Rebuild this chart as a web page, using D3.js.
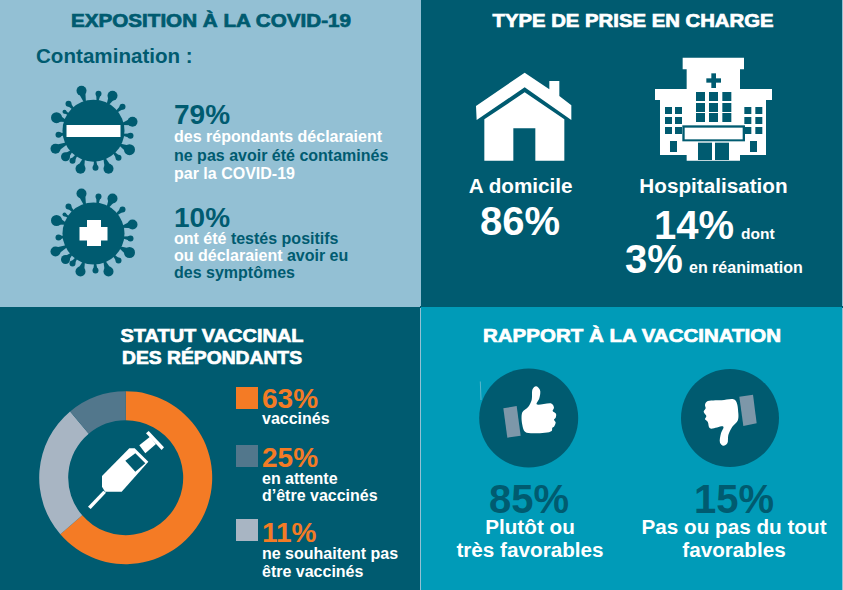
<!DOCTYPE html>
<html>
<head>
<meta charset="utf-8">
<script src="https://cdnjs.cloudflare.com/ajax/libs/d3/7.8.5/d3.min.js"></script>
<style>
  html, body { margin: 0; padding: 0; background: #ffffff; }
  svg { display: block; }
  text { font-family: "Liberation Sans", Arial, sans-serif; font-weight: bold; }
</style>
</head>
<body>
<div id="chart"></div>
<script>
// values
let vaccinValues = [63, 25, 11];
let vaccinLabels = ["vaccinés", "ne souhaitent pas être vaccinés", "en attente d'être vaccinés"];
let contaminationValues = [79, 10];
let priseEnChargeValues = [86, 14, 3];
let rapportValues = [85, 15];

const DARK = "#005b70";
const LIGHT = "#93c0d4";
const TEAL = "#009bb8";
const ORANGE = "#f47b25";
const SLATE = "#52778c";
const GREY = "#a8b5c3";
const SLEEVE = "#7d97a9";
const WHITE = "#ffffff";

let svg = d3.select("#chart").append("svg").attr("width", 843).attr("height", 590);

// panels
svg.append("rect").attr("x", 0).attr("y", 0).attr("width", 843).attr("height", 590).attr("fill", LIGHT);
svg.append("rect").attr("x", 421).attr("y", 0).attr("width", 421).attr("height", 307).attr("fill", DARK);
svg.append("rect").attr("x", 0).attr("y", 307).attr("width", 420).attr("height", 283).attr("fill", DARK);
svg.append("rect").attr("x", 420).attr("y", 306).attr("width", 423).attr("height", 2).attr("fill", DARK);
svg.append("rect").attr("x", 421).attr("y", 307).attr("width", 421).attr("height", 283).attr("fill", TEAL);

function addText(x, y, str, size, color, anchor) {
    return svg.append("text")
        .attr("x", x).attr("y", y)
        .attr("font-size", size)
        .attr("fill", color)
        .attr("text-anchor", anchor || "start")
        .text(str);
}

// titles are set wide in the original, so stretch the glyphs to the measured width
function addTitle(x, y, str, color, width) {
    addText(x, y, str, 18, color, "middle")
        .attr("textLength", width)
        .attr("lengthAdjust", "spacingAndGlyphs")
        .attr("stroke", color)
        .attr("stroke-width", 0.7);
}

// mixed colour line, parts = [[text, color], ...]
function addMixed(x, y, parts, size) {
    let t = svg.append("text").attr("x", x).attr("y", y).attr("font-size", size);
    parts.forEach(p => t.append("tspan").attr("fill", p[1]).text(p[0]));
}

let poly = d3.line();
let smooth = d3.line().curve(d3.curveCatmullRomClosed.alpha(0.5));

// ---- top left : exposition
addTitle(211, 27, "EXPOSITION À LA COVID-19", DARK, 280);
addText(36, 63, "Contamination :", 20.6, DARK);

// little blobs round the virus, offsets from the centre
let virusBlobs = [
    [-12, -40, 5], [5, -37, 3], [19, -35, 5], [29, -24, 3], [39, -9, 5], [37, 5, 3],
    [36, 19, 5.5], [25, 27, 3], [15, 38, 5], [2, 37, 3], [-13, 38, 5], [-21, 30, 3],
    [-28, 26, 4.5], [-38, 18, 5], [-35, 4, 3], [-37, -13, 5.5], [-29, -19, 2], [-25, -27, 3]
];

function drawVirus(cx, cy) {
    let g = svg.append("g").attr("transform", `translate(${cx},${cy})`).attr("fill", DARK);
    virusBlobs.forEach(b => {
        let len = Math.hypot(b[0], b[1]);
        let ux = b[0] / len, uy = b[1] / len;
        let w = b[2] * 0.75;
        // tapered stem going from the blob down to the body
        g.append("path").attr("d", poly([
            [b[0] - uy * w, b[1] + ux * w],
            [b[0] + uy * w, b[1] - ux * w],
            [ux * 29 + uy * 0.9, uy * 29 - ux * 0.9],
            [ux * 29 - uy * 0.9, uy * 29 + ux * 0.9]
        ]) + "Z");
        g.append("circle").attr("cx", b[0]).attr("cy", b[1]).attr("r", b[2]);
    });
    g.append("circle").attr("r", 31);
    return g;
}

let moins = drawVirus(93.5, 130.7);
moins.append("rect").attr("x", -27).attr("y", -5.7).attr("width", 54).attr("height", 12).attr("fill", WHITE);

let plus = drawVirus(93.5, 233.5);
plus.append("rect").attr("x", -14).attr("y", -6.5).attr("width", 28).attr("height", 13.5).attr("fill", WHITE);
plus.append("rect").attr("x", -6.5).attr("y", -13.5).attr("width", 14).attr("height", 26).attr("fill", WHITE);

addText(174, 124, contaminationValues[0] + "%", 28, DARK);
addText(174, 141.7, "des répondants déclaraient", 16, WHITE);
addText(174, 161, "ne pas avoir été contaminés", 16, DARK);
addText(174, 179, "par la COVID-19", 16, WHITE);

addText(174, 227, contaminationValues[1] + "%", 28, DARK);
addMixed(174, 244, [["ont été ", WHITE], ["testés positifs", DARK]], 16);
addMixed(174, 261, [["ou déclaraient ", WHITE], ["avoir eu", DARK]], 16);
addText(174, 278, "des symptômes", 16, DARK);

// ---- top right : prise en charge (icons drawn in 3x zoom units)
addTitle(633, 27, "TYPE DE PRISE EN CHARGE", WHITE, 281);

let topRight = svg.append("g").attr("transform", "translate(420,0) scale(0.33333)");

topRight.append("path").attr("fill", WHITE).attr("d", poly([
    [168, 318], [314, 218], [388, 268], [388, 243], [418, 243], [418, 288], [454, 316], [454, 360], [314, 262], [170, 360]
]) + "Z");
topRight.append("path").attr("fill", WHITE).attr("d", poly([
    [193, 358], [314, 277], [433, 358], [433, 482], [346, 482], [346, 385], [280, 385], [280, 482], [193, 482]
]) + "Z");

topRight.append("path").attr("fill", WHITE).attr("d", poly([
    [788, 173], [972, 173], [972, 208], [960, 208], [960, 267], [1056, 267], [1056, 300], [1038, 300], [1038, 465],
    [960, 465], [960, 482], [800, 482], [800, 465], [720, 465], [720, 300], [705, 300], [705, 267], [800, 267], [800, 208], [788, 208]
]) + "Z");

function hospitalRect(x, y, w, h, color) {
    topRight.append("rect").attr("x", x).attr("y", y).attr("width", w).attr("height", h).attr("fill", color);
}
hospitalRect(859, 235, 44, 13, DARK);
hospitalRect(874, 220, 14, 44, DARK);
[828, 867, 907].forEach(x => [276, 309, 339].forEach(y => hospitalRect(x, y, 27, 27, DARK)));
[735, 765, 973, 1006].forEach(x => [321, 351, 381].forEach(y => hospitalRect(x, y, 21, 21, DARK)));
hospitalRect(787, 376, 188, 48, DARK);
hospitalRect(794, 383, 174, 35, WHITE);
hospitalRect(750, 423, 21, 33, DARK);
hospitalRect(990, 423, 21, 33, DARK);
hospitalRect(834, 428, 42, 52, DARK);
hospitalRect(885, 428, 42, 52, DARK);

addText(520.7, 192.7, "A domicile", 20.7, WHITE, "middle");
addText(713.5, 192.7, "Hospitalisation", 20.7, WHITE, "middle");
addText(520, 235, priseEnChargeValues[0] + "%", 40, WHITE, "middle");
addText(654, 239, priseEnChargeValues[1] + "%", 40, WHITE);
addText(741, 239, "dont", 15.5, WHITE);
addText(625, 273, priseEnChargeValues[2] + "%", 40, WHITE);
addText(689, 273, "en réanimation", 16, WHITE);

// ---- bottom left : donut
addTitle(212, 342, "STATUT VACCINAL", WHITE, 183);
addTitle(212, 364, "DES RÉPONDANTS", WHITE, 180);

let pie = d3.pie().sort(null);
let arc = d3.arc().innerRadius(57.5).outerRadius(86.5);
let colorScale = d3.scaleOrdinal().domain(vaccinLabels).range([ORANGE, GREY, SLATE]);

svg.append("g").attr("transform", "translate(125.7,477.7)")
    .selectAll("path")
    .data(pie(vaccinValues))
    .join("path")
    .attr("d", arc)
    .attr("fill", (d, i) => colorScale(vaccinLabels[i]));

// syringe, 3x zoom units
let syringe = svg.append("g").attr("transform", "translate(80,420) scale(0.33333)").attr("fill", WHITE);
syringe.append("path").attr("d", poly([[24, 260], [70, 212], [78, 218], [32, 267]]) + "Z");
syringe.append("path").attr("d", poly([[66, 168], [148, 85], [164, 85], [205, 125], [125, 215], [75, 215], [66, 200]]) + "Z");
syringe.append("path").attr("d", poly([[178, 76], [210, 50], [228, 72], [196, 100]]) + "Z");
syringe.append("path").attr("d", poly([[198, 40], [206, 33], [252, 82], [245, 90]]) + "Z");
syringe.append("path").attr("fill", DARK).attr("d", poly([[136, 122], [166, 100], [196, 130], [166, 155]]) + "Z");

// legend
let legendColors = [ORANGE, SLATE, GREY];
let legendSquareY = [387, 445, 519];
let legendPctY = [408, 467, 542];
vaccinValues.forEach((v, i) => {
    svg.append("rect").attr("x", 236).attr("y", legendSquareY[i]).attr("width", 22).attr("height", 22).attr("fill", legendColors[i]);
    addText(262, legendPctY[i], v + "%", 28, ORANGE);
});
addText(262, 424, "vaccinés", 16, WHITE);
addText(262, 484, "en attente", 16, WHITE);
addText(262, 500.5, "d’être vaccinés", 16, WHITE);
addText(262, 559, "ne souhaitent pas", 16, WHITE);
addText(262, 577, "être vaccinés", 16, WHITE);

// ---- bottom right : rapport
addTitle(632, 342, "RAPPORT À LA VACCINATION", WHITE, 298);

svg.append("circle").attr("cx", 528.7).attr("cy", 418).attr("r", 49.5).attr("fill", DARK);
svg.append("circle").attr("cx", 730).attr("cy", 418).attr("r", 49).attr("fill", DARK);
svg.append("path").attr("d", "M480.3,381.5L481,400").attr("stroke", "#7fc4d6").attr("stroke-width", 0.7).attr("fill", "none");

let up = svg.append("g").attr("transform", "translate(490,375) scale(0.33333)");
up.append("path").attr("fill", SLEEVE).attr("d", poly([[40, 100], [80, 93], [92, 182], [52, 188]]) + "Z");
up.append("path").attr("fill", WHITE).attr("d", smooth([
    [97, 112], [115, 95], [125, 75], [128, 42], [138, 34], [150, 45], [148, 70], [140, 88], [185, 86], [192, 98],
    [188, 108], [198, 116], [197, 128], [192, 134], [197, 142], [192, 155], [187, 158], [185, 168], [130, 175], [105, 170], [97, 150]
]));

let down = svg.append("g").attr("transform", "translate(695,380) scale(0.33333)");
down.append("path").attr("fill", SLEEVE).attr("d", poly([[133, 50], [174, 44], [185, 130], [145, 138]]) + "Z");
down.append("path").attr("fill", WHITE).attr("d", smooth([
    [35, 65], [80, 61], [120, 60], [130, 100], [128, 122], [112, 140], [100, 165], [97, 190], [85, 197], [75, 188],
    [78, 160], [85, 140], [45, 145], [38, 125], [30, 118], [34, 108], [26, 95], [32, 85], [30, 75]
]));

addText(529, 513, rapportValues[0] + "%", 40, DARK, "middle");
addText(734, 513, rapportValues[1] + "%", 40, DARK, "middle");
addText(530, 534, "Plutôt ou", 20.7, WHITE, "middle");
addText(530, 557, "très favorables", 20.7, WHITE, "middle");
addText(734, 534, "Pas ou pas du tout", 20.7, WHITE, "middle");
addText(734, 557, "favorables", 20.7, WHITE, "middle");
</script>
</body>
</html>
